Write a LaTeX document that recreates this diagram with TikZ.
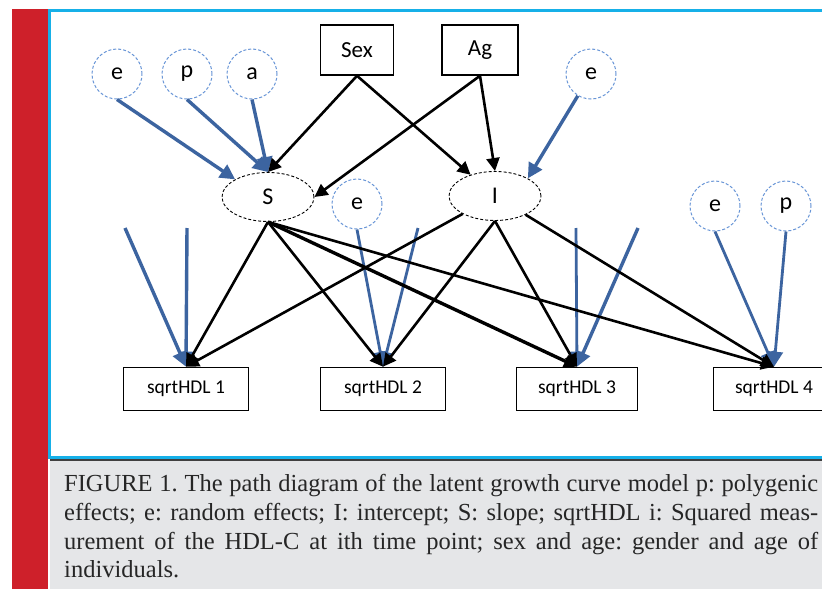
\documentclass[tikz,border=0pt]{standalone}
\usepackage{fontspec}
\setmainfont{Liberation Serif}
\newfontfamily\diagfont{Carlito}
\newfontfamily\capfont{Liberation Serif}
\usepackage{xcolor}
\usetikzlibrary{arrows.meta}
\usetikzlibrary{shapes.geometric}
\tikzset{>={Triangle[length=15pt,width=15pt]}}
\definecolor{pathblue}{RGB}{60,100,160}
\definecolor{errblue}{RGB}{105,150,215}
\definecolor{framecyan}{RGB}{22,176,232}
\definecolor{barred}{RGB}{206,32,42}
\definecolor{capgrey}{RGB}{229,230,232}
\colorlet{captext}{black!85}
\tikzstyle{obsbox}=[draw,line width=1.6pt,minimum height=43pt,inner sep=0pt,font=\diagfont\fontsize{19.5}{19.5}\selectfont]
\tikzstyle{covbox}=[draw,line width=1.6pt,minimum height=50pt,inner sep=0pt,font=\diagfont\fontsize{23}{23}\selectfont]
\tikzstyle{latent}=[draw,ellipse,densely dashed,line width=0.9pt,minimum width=92pt,minimum height=49pt,inner sep=0pt,font=\diagfont\fontsize{24}{24}\selectfont]
\tikzstyle{errnode}=[draw=errblue,circle,densely dashed,line width=1pt,minimum size=50pt,inner sep=0pt,font=\diagfont\fontsize{24}{24}\selectfont]
\tikzstyle{bluepath}=[->,pathblue,line width=3.4pt]
\tikzstyle{blackpath}=[->,black,line width=2.6pt,>={Triangle[length=13pt,width=13pt]}]
\tikzstyle{capline}=[anchor=base west,inner sep=0pt,text=captext,font=\capfont\frenchspacing\fontsize{24.5}{28}\selectfont]

\begin{document}
\begin{tikzpicture}[x=1pt,y=-1pt]

  % page frame
  \useasboundingbox (0,0) rectangle (822,589);
  \clip (0,0) rectangle (822,589);
  \fill[white] (0,0) rectangle (822,589);
  \fill[barred] (12,9) rectangle (48,589);
  \fill[capgrey] (50,459) rectangle (822,589);
  \draw[black!75,line width=1.4pt] (50,460) -- (822,460);
  \draw[framecyan,line width=2.6pt]
    (830,10.5) -- (49.5,10.5) -- (49.5,457.5) -- (830,457.5);

  % covariates
  \node[covbox,minimum width=73pt] (sex) at (357,50) {Sex};
  \node[covbox,minimum width=76pt] (age) at (480,50) {Ag};

  % growth factors
  \node[latent] (S) at (268,197) {S};
  \node[latent] (I) at (495,196) {I};

  % measurements
  \node[obsbox,minimum width=125pt] (h1) at (186,389) {sqrtHDL 1};
  \node[obsbox,minimum width=125pt] (h2) at (383,389) {sqrtHDL 2};
  \node[obsbox,minimum width=121pt] (h3) at (577,389) {sqrtHDL 3};
  \node[obsbox,minimum width=121pt] (h4) at (774,389) {sqrtHDL 4};

  % effects
  \node[errnode] (eS) at (117,74) {e};
  \node[errnode] (pS) at (187,74) {p};
  \node[errnode] (aS) at (252,74) {a};
  \node[errnode] (eI) at (591,74) {e};
  \node[errnode] (e2) at (357,204) {e};
  \node[errnode] (e4) at (715,206) {e};
  \node[errnode] (p4) at (786,206) {p};

  % loose residual ends
  \coordinate (r1a) at (125,228);
  \coordinate (r1b) at (187,228);
  \coordinate (r2) at (418,228);
  \coordinate (r3a) at (576,228);
  \coordinate (r3b) at (638,228);

  % blue paths
  \draw[bluepath] (eS.south) -- (S.north west);
  \draw[bluepath] (pS.south) -- (S.north);
  \draw[bluepath] (aS.south) -- (S.north);
  \draw[bluepath] (eI) -- (I.north east);
  \draw[bluepath] (r1a) -- (h1.north);
  \draw[bluepath] (r1b) -- (h1.north);
  \draw[bluepath,line width=2.8pt] (e2.south) -- (h2.north);
  \draw[bluepath,line width=2.8pt] (r2) -- (h2.north);
  \draw[bluepath,line width=2.8pt] (r3a) -- (h3.north);
  \draw[bluepath] (r3b) -- (h3.north);
  \draw[bluepath,line width=2.8pt] (e4.south) -- (h4.north);
  \draw[bluepath,line width=2.8pt] (p4.south) -- (h4.north);

  % black paths
  \draw[blackpath] (sex.south) -- (S.north);
  \draw[blackpath] (sex.south) -- (I);
  \draw[blackpath] (age.south) -- (S.east);
  \draw[blackpath] (age.south) -- (I.north);
  \draw[blackpath] (S.south) -- (h1.north);
  \draw[blackpath] (S.south) -- (h2.north);
  \draw[blackpath,line width=3.4pt] (S.south) -- (h3.north);
  \draw[blackpath] (S.south) -- (h4.north);
  \draw[blackpath] (I) -- (h1.north);
  \draw[blackpath] (I.south) -- (h2.north);
  \draw[blackpath] (I.south) -- (h3.north);
  \draw[blackpath] (I) -- (h4.north);

  % caption
  \node[capline] (cap1) at (64,491)
    {\makebox[754pt][s]{FIGURE 1. The path diagram of the latent growth curve model p: polygenic}};
  \node[capline] (cap2) at (64,520)
    {\makebox[754pt][s]{effects; e: random effects; I: intercept; S: slope; sqrtHDL i: Squared meas-}};
  \node[capline] (cap3) at (64,549)
    {\makebox[754pt][s]{urement of the HDL-C at ith time point; sex and age: gender and age of}};
  \node[capline] (cap4) at (64,577) {individuals.};

\end{tikzpicture}
\end{document}
